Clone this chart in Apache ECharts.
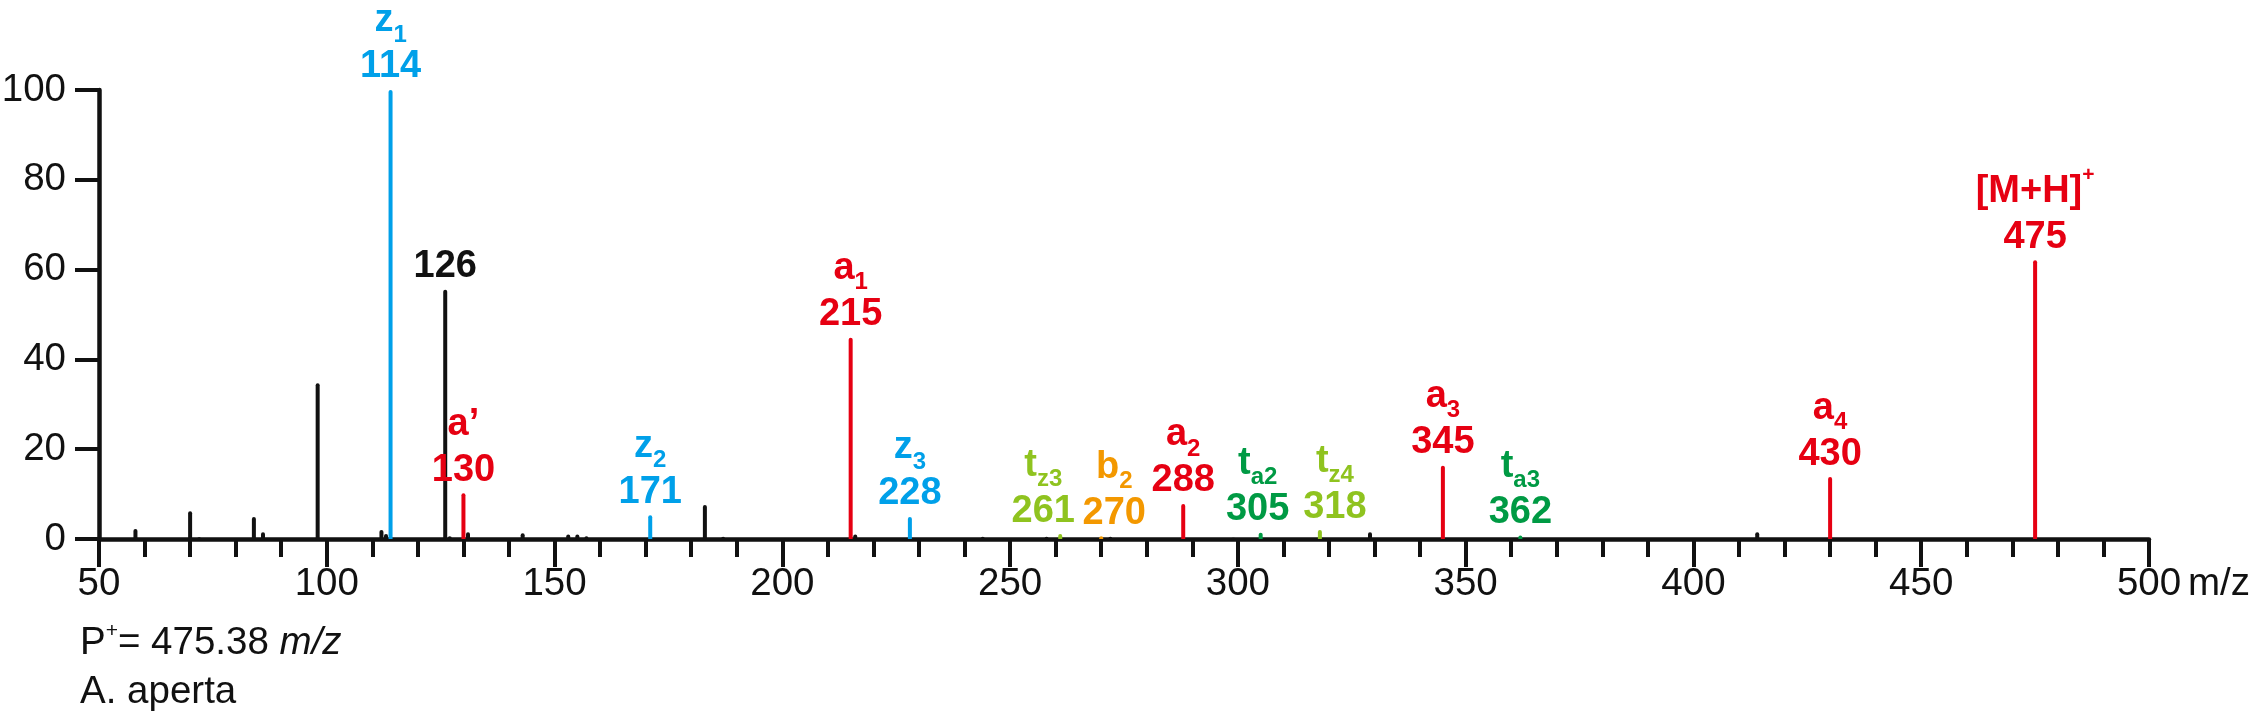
<!DOCTYPE html>
<html><head><meta charset="utf-8">
<script src="https://cdn.jsdelivr.net/npm/echarts@6/dist/echarts.min.js"></script>
<style>html,body{margin:0;padding:0;background:#fff}#c{width:2250px;height:719px}</style>
</head><body><div id="c"></div>
<script>
// Unannotated (black) peaks: m/z and relative intensity (%)
const peakMz  = [58, 70, 72, 84, 86, 98, 112, 113, 127, 131, 143, 153, 155, 157, 183, 187, 201, 216, 244, 258, 272, 299, 329, 414];
const peakInt = [2.2, 6.2, 0.4, 4.9, 1.5, 34.7, 2.0, 1.1, 0.6, 1.5, 1.3, 1.0, 1.0, 0.6, 7.6, 0.5, 0.2, 1.0, 0.5, 0.5, 0.5, 0.3, 1.5, 1.5];

// Annotated ions
const ionMz   = [114, 126, 130, 171, 215, 228, 261, 270, 288, 305, 318, 345, 362, 430, 475];
const ionInt  = [100, 55.5, 10.2, 5.3, 44.8, 4.9, 1.1, 0.6, 7.8, 1.4, 2.0, 16.3, 0.8, 13.8, 62.1];
const ionName = ['z', '', 'a\u2019', 'z', 'a', 'z', 't', 'b', 'a', 't', 't', 'a', 't', 'a', '[M+H]'];
const ionSub  = ['1', '', '', '2', '1', '3', 'z3', '2', '2', 'a2', 'z4', '3', 'a3', '4', ''];
const ionSup  = ['', '', '', '', '', '', '', '', '', '', '', '', '', '', '+'];
const ionType = ['z', 'k', 'a', 'z', 'a', 'z', 'tz', 'b', 'a', 'ta', 'tz', 'a', 'ta', 'a', 'a'];
const ionLabel = ['114', '126', '130', '171', '215', '228', '261', '270', '288', '305', '318', '345', '362', '430', '475'];

const xTickLabels = ['50', '100', '150', '200', '250', '300', '350', '400', '450', '500'];
const yTickLabels = ['0', '20', '40', '60', '80', '100'];

// ---- styling (not data) ----
const typeColor = { z: '#00a0e9', a: '#e60012', b: '#f39800', tz: '#8fc31f', ta: '#009a44', k: '#111111' };
const labelShiftPx = { 261: -17, 270: 13, 305: -3, 318: 15 }; // nudges for crowded annotations
const FONT = '"Liberation Sans", Arial, Helvetica, sans-serif';
const INK = '#111111';
const FS = 38.5;
const FB = 38;

const data = [];
peakMz.forEach((m, i) => data.push({ value: [m, peakInt[i]], itemStyle: { color: INK } }));
ionMz.forEach((m, i) => {
  const c = typeColor[ionType[i]];
  let txt = '';
  if (ionName[i]) {
    txt += '{n|' + ionName[i] + '}';
    if (ionSub[i]) txt += '{s|' + ionSub[i] + '}';
    if (ionSup[i]) txt += '{p|' + ionSup[i] + '}';
    txt += '\n';
  }
  txt += '{v|' + ionLabel[i] + '}';
  data.push({
    value: [m, ionInt[i]],
    itemStyle: { color: c },
    label: {
      show: true, position: 'top', distance: 3, formatter: txt, align: 'center',
      offset: [labelShiftPx[m] || 0, 0],
      rich: {
        n: { fontFamily: FONT, fontWeight: 'bold', fontSize: FB, lineHeight: 52, color: c },
        s: { fontFamily: FONT, fontWeight: 'bold', fontSize: 24, lineHeight: 16, verticalAlign: 'bottom', color: c },
        p: { fontFamily: FONT, fontWeight: 'bold', fontSize: 21, lineHeight: 38, verticalAlign: 'top', color: c },
        v: { fontFamily: FONT, fontWeight: 'bold', fontSize: FB, lineHeight: 40, color: c }
      }
    }
  });
});

const chart = echarts.init(document.getElementById('c'), null, { renderer: 'canvas' });
chart.setOption({
  animation: false,
  backgroundColor: '#ffffff',
  grid: { left: 99, right: 101, top: 90, bottom: 180, containLabel: false, outerBoundsMode: 'none' },
  xAxis: {
    type: 'value', min: 50, max: 500, interval: 50,
    name: 'm/z', nameLocation: 'end', nameGap: 39,
    nameTextStyle: { fontFamily: FONT, fontSize: FS, color: INK, verticalAlign: 'top', padding: [26, 0, 0, 0] },
    axisLine: { show: true, onZero: true, lineStyle: { color: INK, width: 4.5 } },
    axisTick: { show: true, length: 28, lineStyle: { color: INK, width: 4 } },
    minorTick: { show: true, splitNumber: 5, length: 18, lineStyle: { color: INK, width: 4 } },
    axisLabel: { fontFamily: FONT, fontSize: FS, color: INK, margin: 26,
      formatter: v => xTickLabels[Math.round((v - 50) / 50)] },
    splitLine: { show: false }
  },
  yAxis: {
    type: 'value', min: 0, max: 100, interval: 20,
    axisLine: { show: true, lineStyle: { color: INK, width: 4.5 } },
    axisTick: { show: true, length: 24, lineStyle: { color: INK, width: 4 } },
    axisLabel: { fontFamily: FONT, fontSize: FS, color: INK, margin: 33,
      formatter: v => yTickLabels[Math.round(v / 20)] },
    splitLine: { show: false }
  },
  series: [{
    type: 'bar', barWidth: 4, data: data,
    itemStyle: { borderRadius: [2, 2, 0, 0] },
    z: 3
  }],
  graphic: [
    { type: 'text', left: 80, top: 621, style: {
      text: '{a|P}{p|+}{a|= 475.38 }{i|m/z}',
      rich: {
        a: { fontFamily: FONT, fontSize: FS, lineHeight: 44, fill: INK },
        p: { fontFamily: FONT, fontSize: 21, lineHeight: 34, verticalAlign: 'top', fill: INK },
        i: { fontFamily: FONT, fontSize: FS, lineHeight: 44, fontStyle: 'italic', fill: INK }
      } } },
    { type: 'text', left: 80, top: 670, style: { text: 'A. aperta', fontFamily: FONT, fontSize: FS, lineHeight: 44, fill: INK } }
  ]
});
</script></body></html>
